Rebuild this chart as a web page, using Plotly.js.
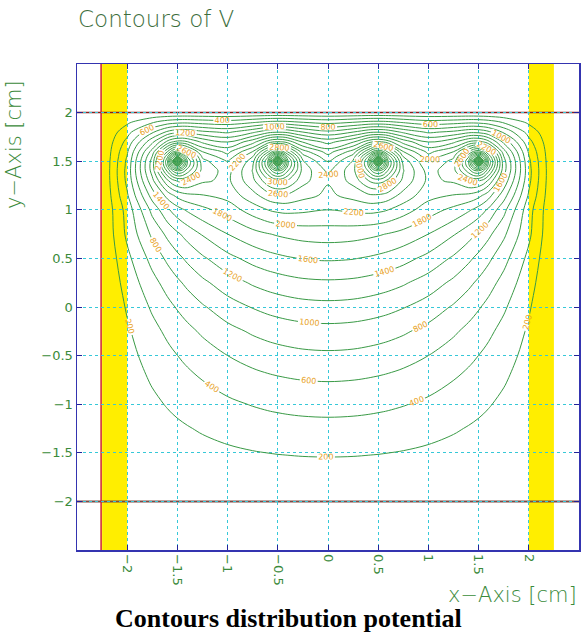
<!DOCTYPE html>
<html>
<head>
<meta charset="utf-8">
<script src="https://cdn.plot.ly/plotly-3.0.1.min.js"></script>
<style>
  html, body { margin: 0; padding: 0; background: #ffffff; }
  #chart { width: 582px; height: 639px; }
</style>
</head>
<body>
<div id="chart"></div>
<script>
// Sample positions of the potential map [cm]
const xCm = [-2.25, -2, -1.75, -1.6, -1.55, -1.5, -1.45, -1.4, -1.25, -1, -0.75, -0.6, -0.55, -0.5, -0.45, -0.4, -0.25,
             0, 0.25, 0.4, 0.45, 0.5, 0.55, 0.6, 0.75, 1, 1.25, 1.4, 1.45, 1.5, 1.55, 1.6, 1.75, 2, 2.25];
const yCm = [-2, -1.75, -1.5, -1.25, -1, -0.75, -0.5, -0.25, 0, 0.25, 0.5, 0.75,
             1, 1.15, 1.3, 1.4, 1.45, 1.5, 1.55, 1.6, 1.7, 1.8, 1.9, 2];

// Potential V, one row per yCm entry, one column per xCm entry
const potentialV = [
  [0,0,0,0,0,0,0,0,0,0,0,0,0,0,0,0,0,0,0,0,0,0,0,0,0,0,0,0,0,0,0,0,0,0,0],
  [0,18,36,46,50,53,56,59,68,80,91,96,98,99,100,101,103,105,103,101,100,99,98,96,91,80,68,59,56,53,50,46,36,18,0],
  [0,38,75,96,103,110,117,123,141,169,191,201,204,207,209,211,217,220,217,211,209,207,204,201,191,169,141,123,117,110,103,96,75,38,0],
  [0,59,116,149,160,170,180,190,219,260,294,311,316,320,324,327,335,340,335,327,324,320,316,311,294,260,219,190,180,170,160,149,116,59,0],
  [0,84,165,211,226,241,255,269,308,365,410,432,438,443,448,453,463,470,463,453,448,443,438,432,410,365,308,269,255,241,226,211,165,84,0],
  [0,111,217,277,296,315,333,351,402,476,534,561,569,576,582,588,602,610,602,588,582,576,569,561,534,476,402,351,333,315,296,277,217,111,0],
  [0,140,275,351,375,399,422,444,508,600,672,706,715,724,731,738,755,765,755,738,731,724,715,706,672,600,508,444,422,399,375,351,275,140,0],
  [0,175,342,436,466,495,523,551,629,740,826,866,877,887,896,904,923,935,923,904,896,887,877,866,826,740,629,551,523,495,466,436,342,175,0],
  [0,220,428,544,581,617,651,684,778,910,1011,1058,1071,1083,1093,1103,1126,1140,1126,1103,1093,1083,1071,1058,1011,910,778,684,651,617,581,544,428,220,0],
  [0,276,534,675,719,763,804,845,956,1108,1225,1278,1292,1306,1318,1329,1355,1370,1355,1329,1318,1306,1292,1278,1225,1108,956,845,804,763,719,675,534,276,0],
  [0,348,668,839,892,944,992,1040,1168,1339,1467,1526,1541,1555,1568,1580,1609,1625,1609,1580,1568,1555,1541,1526,1467,1339,1168,1040,992,944,892,839,668,348,0],
  [0,442,839,1044,1106,1167,1221,1275,1417,1599,1730,1789,1805,1821,1834,1846,1876,1895,1876,1846,1834,1821,1805,1789,1730,1599,1417,1275,1221,1167,1106,1044,839,442,0],
  [0,479,1062,1360,1444,1517,1578,1627,1745,1894,2093,2201,2229,2245,2258,2260,2242,2200,2242,2260,2258,2245,2229,2201,2093,1894,1745,1627,1578,1517,1444,1360,1062,479,0],
  [0,577,1292,1680,1782,1861,1919,1955,1993,2068,2331,2512,2554,2575,2582,2567,2470,2359,2470,2567,2582,2575,2554,2512,2331,2068,1993,1955,1919,1861,1782,1680,1292,577,0],
  [0,650,1547,2162,2326,2428,2459,2429,2233,2154,2544,2944,3049,3093,3074,2993,2669,2417,2669,2993,3074,3093,3049,2944,2544,2154,2233,2429,2459,2428,2326,2162,1547,650,0],
  [0,666,1679,2634,2986,3186,3112,2887,2329,2121,2612,3358,3653,3797,3676,3402,2724,2358,2724,3402,3676,3797,3653,3358,2612,2121,2329,2887,3112,3186,2986,2634,1679,666,0],
  [0,654,1701,2871,3501,3993,3622,3112,2322,2054,2588,3556,4134,4574,4154,3597,2693,2276,2693,3597,4154,4574,4134,3556,2588,2054,2322,3112,3622,3993,3501,2871,1701,654,0],
  [0,642,1677,2952,3874,5800,3988,3180,2269,1987,2518,3597,4472,6200,4490,3635,2615,2194,2615,3635,4490,6200,4472,3597,2518,1987,2269,3180,3988,5800,3874,2952,1677,642,0],
  [0,608,1603,2746,3367,3853,3473,2958,2153,1863,2382,3341,3917,4355,3934,3376,2471,2053,2471,3376,3934,4355,3917,3341,2382,1863,2153,2958,3473,3853,3367,2746,1603,608,0],
  [0,573,1480,2382,2718,2903,2816,2578,1988,1739,2197,2927,3218,3359,3234,2959,2278,1911,2278,2959,3234,3359,3218,2927,2197,1739,1988,2578,2816,2903,2718,2382,1480,573,0],
  [0,463,1146,1652,1784,1857,1862,1807,1550,1391,1712,2080,2176,2213,2188,2104,1774,1523,1774,2104,2188,2213,2176,2080,1712,1391,1550,1807,1862,1857,1784,1652,1146,463,0],
  [0,323,766,1041,1106,1145,1159,1148,1046,965,1157,1334,1374,1389,1383,1351,1199,1055,1199,1351,1383,1389,1374,1334,1157,965,1046,1148,1159,1145,1106,1041,766,323,0],
  [0,165,381,504,532,551,560,558,524,493,580,653,669,674,673,662,602,538,602,662,673,674,669,653,580,493,524,558,560,551,532,504,381,165,0],
  [0,0,0,0,0,0,0,0,0,0,0,0,0,0,0,0,0,0,0,0,0,0,0,0,0,0,0,0,0,0,0,0,0,0,0]
];

// Contour levels
const levelStart = 200;
const levelEnd = 6200;
const levelStep = 200;

// Axis ticks
const xTickVals = [-2, -1.5, -1, -0.5, 0, 0.5, 1, 1.5, 2];
const xTickText = ['\u22122', '\u22121.5', '\u22121', '\u22120.5', '0', '0.5', '1', '1.5', '2'];
const yTickVals = [-2, -1.5, -1, -0.5, 0, 0.5, 1, 1.5, 2];
const yTickText = ['\u22122', '\u22121.5', '\u22121', '\u22120.5', '0', '0.5', '1', '1.5', '2'];

// Electrode walls and boundary lines [cm]
const wallLeft = [-2.25, -2.0];
const wallRight = [2.0, 2.25];
const boundaryY = [-2, 2];
const boundaryX = -2.26;

const tickGreen = '#3a8a3a';

const trace = {
  type: 'contour',
  x: xCm,
  y: yCm,
  z: potentialV,
  autocontour: false,
  contours: {
    coloring: 'lines',
    start: levelStart,
    end: levelEnd,
    size: levelStep,
    showlabels: true,
    labelfont: { family: 'DejaVu Sans', size: 8, color: '#e8a11c' }
  },
  colorscale: [[0, '#3a9a46'], [1, '#3a9a46']],
  showscale: false,
  line: { width: 1, smoothing: 1 },
  hoverinfo: 'skip'
};

const axisCommon = {
  range: [-2.5, 2.5],
  showline: true,
  linecolor: '#3434b0',
  linewidth: 1.5,
  mirror: 'ticks',
  ticks: 'inside',
  ticklen: 5,
  tickwidth: 1,
  tickcolor: '#22229a',
  showgrid: true,
  gridcolor: '#36c8d8',
  griddash: 'dot',
  gridwidth: 1,
  zeroline: false,
  tickfont: { family: 'DejaVu Sans', size: 13, color: tickGreen }
};

const shapes = [
  { type: 'rect', xref: 'x', yref: 'paper', x0: wallLeft[0], x1: wallLeft[1], y0: 0, y1: 1,
    fillcolor: '#ffee00', line: { width: 0 }, layer: 'between' },
  { type: 'rect', xref: 'x', yref: 'paper', x0: wallRight[0], x1: wallRight[1], y0: 0, y1: 1,
    fillcolor: '#ffee00', line: { width: 0 }, layer: 'between' },
  { type: 'line', xref: 'paper', yref: 'y', x0: 0, x1: 1, y0: boundaryY[0], y1: boundaryY[0],
    line: { color: '#7d4a44', width: 2 }, layer: 'between' },
  { type: 'line', xref: 'paper', yref: 'y', x0: 0, x1: 1, y0: boundaryY[1], y1: boundaryY[1],
    line: { color: '#8a1c1c', width: 1.5 }, layer: 'between' },
  { type: 'line', xref: 'x', yref: 'paper', x0: boundaryX, x1: boundaryX, y0: 0, y1: 1,
    line: { color: '#d02020', width: 1.5 }, layer: 'between' }
];

const annotations = [
  { text: 'x\u2212Axis [cm]', xref: 'paper', yref: 'paper', x: 1.0, y: -0.093,
    xanchor: 'right', yanchor: 'middle', showarrow: false,
    font: { family: 'DejaVu Sans', size: 21, color: tickGreen, weight: 200 } },
  { text: 'y\u2212Axis [cm]', xref: 'paper', yref: 'paper', x: -0.126, y: 0.835,
    xanchor: 'center', yanchor: 'middle', textangle: -90, showarrow: false,
    font: { family: 'DejaVu Sans', size: 21, color: tickGreen, weight: 200 } },
  { text: '<b>Contours distribution potential</b>', xref: 'paper', yref: 'paper', x: 0.422, y: -0.140,
    xanchor: 'center', yanchor: 'middle', showarrow: false,
    font: { family: 'Liberation Serif', size: 26, color: '#000000' } }
];

const layout = {
  width: 582,
  height: 639,
  margin: { l: 77, r: 3, t: 64, b: 89 },
  paper_bgcolor: '#ffffff',
  plot_bgcolor: '#ffffff',
  showlegend: false,
  title: {
    text: 'Contours of V',
    x: 78 / 582, xanchor: 'left', xref: 'container',
    y: 1 - 19 / 639, yanchor: 'middle', yref: 'container',
    font: { family: 'DejaVu Sans', size: 23, color: '#3d6e3d', weight: 200 }
  },
  xaxis: Object.assign({}, axisCommon, {
    tickvals: xTickVals, ticktext: xTickText, tickangle: 90
  }),
  yaxis: Object.assign({}, axisCommon, {
    tickvals: yTickVals, ticktext: yTickText
  }),
  shapes: shapes,
  annotations: annotations
};

Plotly.newPlot('chart', [trace], layout, { displayModeBar: false, staticPlot: true });
</script>
</body>
</html>
